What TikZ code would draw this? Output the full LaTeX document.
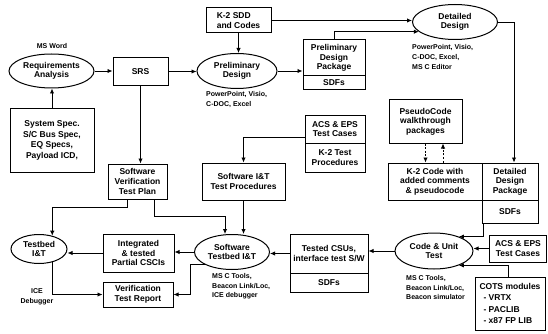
\documentclass[tikz,border=0pt]{standalone}
\usepackage{fontspec}
\setmainfont{Liberation Sans}
\usetikzlibrary{arrows.meta,shapes.geometric,calc}
\begin{document}
\begin{tikzpicture}[x=1pt,y=-1pt,
  every node/.style={font=\fontsize{8.5}{9.6}\selectfont\bfseries, inner sep=0pt, align=center},
  box/.style={draw, line width=1pt, rectangle},
  ell/.style={draw, line width=1pt, ellipse},
  lbl/.style={font=\fontsize{7}{9.8}\selectfont\bfseries, align=left, anchor=north west},
  small/.style={font=\fontsize{7}{9.8}\selectfont\bfseries},
  arr/.style={line width=0.9pt, -{Latex[length=5pt,width=4.5pt]}},
  dsh/.style={dash pattern=on 2pt off 1.6pt}
]
\useasboundingbox (0,0) rectangle (548,334);
% top-left
\node[ell, minimum width=85pt, minimum height=34pt] (req) at (51.5,71) {Requirements\\Analysis};
\node[small] (msw) at (52,46) {MS Word};
\node[box, minimum width=55pt, minimum height=28pt] (srs) at (140.5,71.5) {SRS};
\node[box, minimum width=84pt, minimum height=63pt, font=\fontsize{8.5}{10.6}\selectfont\bfseries] (sys) at (52,140.5) {System Spec.\\S/C Bus Spec,\\EQ Specs,\\Payload ICD,};
% preliminary
\node[ell, minimum width=80pt, minimum height=35pt] (prelim) at (237,71) {Preliminary\\Design};
\node[lbl] (prelbl) at (206,91.5) {PowerPoint, Visio,\\C-DOC, Excel};
\node[box, minimum width=65pt, minimum height=25pt, align=left] (k2sdd) at (238.5,20.5) {K-2 SDD\\and Codes};
\node[box, minimum width=62pt, minimum height=36pt] (pdp) at (334,58) {Preliminary\\Design\\Package};
\node[box, minimum width=62pt, minimum height=14pt] (pdpsdf) at (334,83) {SDFs};
% detailed design
\node[ell, minimum width=85pt, minimum height=35pt] (dd) at (455,22) {Detailed\\Design};
\node[lbl] (ddlbl) at (412,44.5) {PowerPoint, Visio,\\C-DOC, Excel,\\MS C Editor};
\node[box, minimum width=73pt, minimum height=43pt] (pseudo) at (425.5,121.5) {PseudoCode\\walkthrough\\packages};
\node[box, minimum width=94pt, minimum height=37pt] (k2code) at (435,181.5) {K-2 Code with\\added comments\\\& pseudocode};
\node[box, minimum width=56pt, minimum height=37pt] (ddp) at (510,181.5) {Detailed\\Design\\Package};
\node[box, minimum width=56pt, minimum height=23pt] (ddsdf) at (510,211.5) {SDFs};
% test procedures
\node[box, minimum width=60pt, minimum height=28pt] (acs1) at (335,129) {ACS \& EPS\\Test Cases};
\node[box, minimum width=60pt, minimum height=29pt] (k2tp) at (335,157.5) {K-2 Test\\Procedures};
\node[box, minimum width=83pt, minimum height=37pt] (sitp) at (243.5,181.5) {Software I\&T\\Test Procedures};
\node[box, minimum width=59pt, minimum height=35pt] (svtp) at (137.5,181.5) {Software\\Verification\\Test Plan};
% bottom row
\node[ell, minimum width=56pt, minimum height=29pt] (tbit) at (39,249) {Testbed\\I\&T};
\node[small] (icelbl) at (37,297) {ICE\\Debugger};
\node[box, minimum width=71pt, minimum height=38pt] (integ) at (138.5,253) {Integrated\\\& tested\\Partial CSCIs};
\node[box, minimum width=70pt, minimum height=25pt] (vtr) at (138,294.5) {Verification\\Test Report};
\node[ell, minimum width=75pt, minimum height=35pt] (stit) at (232,252) {Software\\Testbed I\&T};
\node[lbl] (stitlbl) at (212,273) {MS C Tools,\\Beacon Link/Loc,\\ICE debugger};
\node[box, minimum width=78pt, minimum height=39pt] (tcsu) at (329,253.5) {Tested CSUs,\\interface test S/W};
\node[box, minimum width=78pt, minimum height=19pt] (tcsdf) at (329,282.5) {SDFs};
\node[ell, minimum width=78pt, minimum height=36pt] (cut) at (434,251) {Code \& Unit\\Test};
\node[lbl] (cutlbl) at (406,275) {MS C Tools,\\Beacon Link/Loc,\\Beacon simulator};
\node[box, minimum width=57pt, minimum height=27pt] (acs2) at (518,248.5) {ACS \& EPS\\Test Cases};
\node[box, minimum width=70pt, minimum height=53pt, align=left, font=\fontsize{8.5}{11.2}\selectfont\bfseries] (cots) at (510,303.5) {COTS modules\\\hspace{4pt}- VRTX\\\hspace{4pt}- PACLIB\\\hspace{4pt}- x87 FP LIB};
% connectors
\draw[arr] (sys.north) -- (sys.north |- req.south);
\draw[arr] (req.east) -- (req.east -| srs.west);
\draw[arr] (srs.east) -- (srs.east -| prelim.west);
\draw[arr] (srs.south) -- (srs.south |- svtp.north);
\draw[arr] (k2sdd.south) -- (k2sdd.south |- prelim.north);
\draw[arr] (prelim.east) -- (prelim.east -| pdp.west);
\draw[arr] (k2sdd.east) -- (k2sdd.east -| dd.west);
\draw[arr] (pdp.north) |- (dd.195);
\draw[arr] (dd.east) -| ([xshift=4pt]ddp.north);
\draw[arr,dsh] (pseudo.south) -- (pseudo.south |- k2code.north);
\draw[arr,dsh] ([xshift=8pt]k2code.north) -- ([xshift=8pt]k2code.north |- pseudo.south);
\draw[arr] ([xshift=2pt]ddsdf.south west) |- (cut.30);
\draw[arr] (acs2.west) -- (acs2.west -| cut.east);
\draw[arr] ([xshift=-2pt]cots.north) |- (cut.-30);
\draw[arr] (cut.west) -- (cut.west -| tcsu.east);
\draw[arr] (tcsu.west) -- (tcsu.west -| stit.east);
\draw[arr] (stit.west) -- (stit.west -| integ.east);
\draw[arr] (integ.west) -- (integ.west -| tbit.east);
\draw[arr] (stit.205) -| ([xshift=17pt]vtr.east) -- (vtr.east);
\draw[arr] (tbit.-45) |- (vtr.west);
\draw[arr] ([xshift=-10pt]svtp.south) -- ++(0,8) -| (tbit.45);
\draw[arr] ([xshift=17pt]svtp.south) -- ++(0,17) -| ([xshift=-7pt]stit.north);
\draw[arr] (sitp.south) -- (sitp.south |- stit.north);
\draw[arr] ([yshift=6pt]acs1.south west) -| (sitp.north);
\end{tikzpicture}
\end{document}
